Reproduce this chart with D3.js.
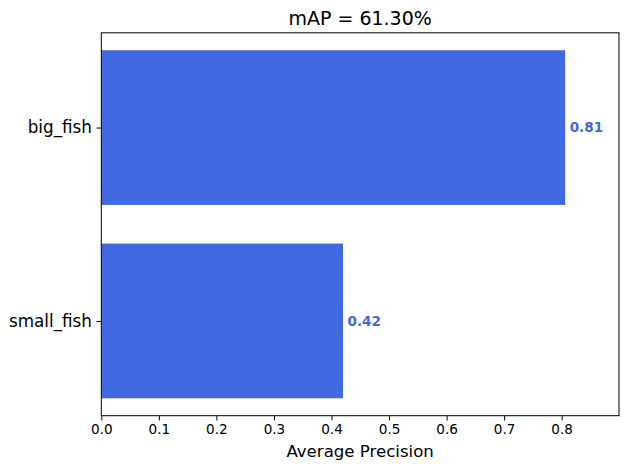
<!DOCTYPE html>
<html><head><meta charset="utf-8">
<script src="https://cdn.jsdelivr.net/npm/d3@7"></script>
<style>body{margin:0;background:#fff}svg text{font-family:"DejaVu Sans",sans-serif}</style>
</head><body><svg id="c" width="627" height="467"></svg>
<script>
const categories = ["big_fish", "small_fish"];
const values = [0.806, 0.420];
const valueLabels = ["0.81", "0.42"];
const xTicks = [0.0, 0.1, 0.2, 0.3, 0.4, 0.5, 0.6, 0.7, 0.8];
const title = "mAP = 61.30%";
const xTitle = "Average Precision";

const svg = d3.select("#c");
const L = 101.3, R = 619, T = 32.8, B = 415.7;
const x = d3.scaleLinear().domain([0, 0.8996]).range([L, R]);
const y = d3.scaleLinear().domain([-0.49, 1.49]).range([T, B]);
const bh = y(0.4) - y(0);

svg.append("g").selectAll("rect").data(categories).join("rect")
  .attr("x", x(0)).attr("y", (d, i) => y(i) - bh)
  .attr("width", (d, i) => x(values[i]) - x(0)).attr("height", 2 * bh)
  .attr("fill", "#4169e1");

svg.append("g").selectAll("text").data(categories).join("text")
  .attr("x", (d, i) => x(values[i]) + 4.5).attr("y", (d, i) => y(i))
  .attr("dy", "0.35em").attr("fill", "#4169e1").attr("font-weight", "bold")
  .attr("font-size", "13.6px").text((d, i) => valueLabels[i]);

const xa = svg.append("g").attr("transform", `translate(0,${B})`)
  .call(d3.axisBottom(x).tickValues(xTicks).tickFormat(d3.format(".1f")).tickSizeOuter(0).tickSize(4.8).tickPadding(3.5));
xa.select(".domain").remove();
xa.selectAll("text").attr("font-size", "13.6px").attr("fill", "#000");
xa.selectAll("line").attr("stroke", "#000").attr("stroke-width", 1);

const ya = svg.append("g").attr("transform", `translate(${L},0)`)
  .call(d3.axisLeft(y).tickValues([0, 1]).tickFormat((d) => categories[d]).tickSizeOuter(0).tickSize(4.8).tickPadding(4.5));
ya.select(".domain").remove();
ya.selectAll("text").attr("font-size", "16.8px").attr("fill", "#000");
ya.selectAll("line").attr("stroke", "#000").attr("stroke-width", 1);

svg.append("rect").attr("x", L).attr("y", T).attr("width", R - L).attr("height", B - T)
  .attr("fill", "none").attr("stroke", "#000").attr("stroke-width", 1);

svg.append("text").attr("x", (L + R) / 2).attr("y", 25).attr("text-anchor", "middle")
  .attr("font-size", "19px").text(title);
svg.append("text").attr("x", (L + R) / 2).attr("y", 457).attr("text-anchor", "middle")
  .attr("font-size", "16.6px").text(xTitle);
</script></body></html>
